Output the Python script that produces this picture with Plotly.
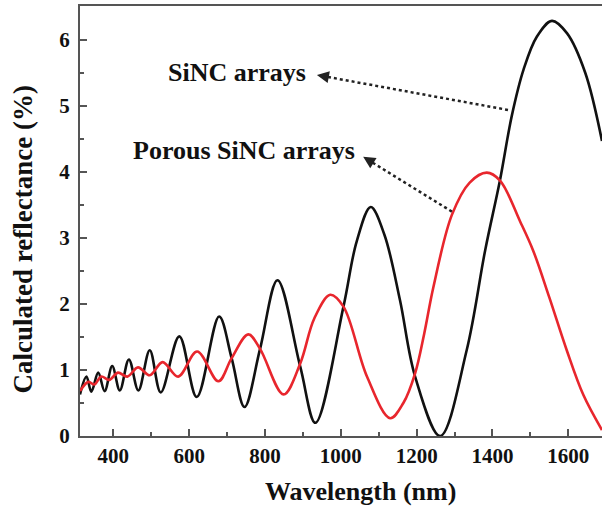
import plotly.graph_objects as go

# SiNC arrays (black) - wavelength (nm) and calculated reflectance (%)
sinc_wl = [312, 329, 342, 360, 377, 397, 417, 441, 466, 496, 525, 574, 620, 679,
           712, 746, 787, 833, 893, 933, 1007, 1042, 1079, 1115, 1156, 1196, 1262,
           1332, 1381, 1420, 1451, 1482, 1517, 1557, 1597, 1645, 1689]
sinc_r = [0.63, 0.90, 0.67, 0.96, 0.68, 1.06, 0.69, 1.16, 0.69, 1.30, 0.66, 1.51, 0.59, 1.81,
          1.18, 0.44, 1.32, 2.36, 1.05, 0.20, 1.96, 2.95, 3.47, 3.05, 2.06, 0.90, 0.00,
          1.30, 2.82, 3.88, 4.85, 5.55, 6.05, 6.29, 6.10, 5.50, 4.47]

# Porous SiNC arrays (red)
porous_wl = [312, 334, 350, 368, 389, 412, 437, 465, 496, 530, 571, 621, 677, 712,
             756, 787, 849, 893, 930, 972, 1007, 1069, 1130, 1165, 1196, 1220, 1244, 1293,
             1340, 1385, 1420, 1473, 1508, 1550, 1596, 1640, 1689]
porous_r = [0.68, 0.82, 0.78, 0.90, 0.85, 0.96, 0.90, 1.04, 0.92, 1.12, 0.90, 1.28, 0.83, 1.18,
            1.54, 1.32, 0.63, 1.10, 1.78, 2.14, 1.96, 0.90, 0.27, 0.50, 0.95, 1.55, 2.25, 3.35,
            3.84, 3.99, 3.87, 3.25, 2.80, 2.10, 1.30, 0.62, 0.09]

x_ticks = [400, 600, 800, 1000, 1200, 1400, 1600]
y_ticks = [0, 1, 2, 3, 4, 5, 6]

FONT = "Liberation Serif, Times New Roman, serif"

fig = go.Figure()
fig.add_trace(go.Scatter(x=sinc_wl, y=sinc_r, mode="lines", name="SiNC arrays",
                         line=dict(color="#111111", width=2.6, shape="spline", smoothing=1.0)))
fig.add_trace(go.Scatter(x=porous_wl, y=porous_r, mode="lines", name="Porous SiNC arrays",
                         line=dict(color="#e8262d", width=2.6, shape="spline", smoothing=1.0)))

# dotted arrows
arrows = [
    dict(text="SiNC arrays", tx=725, ty=5.515, hx=937, hy=5.47, sx=1441, sy=4.94),
    dict(text="Porous SiNC arrays", tx=745, ty=4.33, hx=1059, hy=4.23, sx=1293, sy=3.40),
]
for a in arrows:
    fig.add_shape(type="line", x0=a["sx"], y0=a["sy"], x1=a["hx"] + (a["sx"] - a["hx"]) * 0.03,
                  y1=a["hy"] + (a["sy"] - a["hy"]) * 0.03, xref="x", yref="y",
                  line=dict(color="#222222", width=2.5, dash="dot"))
    fig.add_annotation(x=a["hx"], y=a["hy"], ax=a["hx"] + (a["sx"] - a["hx"]) * 0.06,
                       ay=a["hy"] + (a["sy"] - a["hy"]) * 0.06, xref="x", yref="y",
                       axref="x", ayref="y", text="", showarrow=True, arrowhead=2,
                       arrowsize=1.2, arrowwidth=2, arrowcolor="#222222")
    fig.add_annotation(x=a["tx"], y=a["ty"], xref="x", yref="y", text=a["text"],
                       showarrow=False, xanchor="center", yanchor="middle",
                       font=dict(family=FONT, size=26, color="#111111", weight="bold"))

# axis titles
fig.add_annotation(x=0.538, y=-0.128, xref="paper", yref="paper", text="Wavelength (nm)",
                   showarrow=False, xanchor="center", yanchor="middle",
                   font=dict(family=FONT, size=26, color="#111111", weight="bold"))
fig.add_annotation(x=-0.11, y=0.456, xref="paper", yref="paper", text="Calculated reflectance (%)",
                   showarrow=False, xanchor="center", yanchor="middle", textangle=-90,
                   font=dict(family=FONT, size=27, color="#111111", weight="bold"))

fig.update_layout(
    width=602, height=510,
    margin=dict(l=80, r=0, t=6, b=74),
    paper_bgcolor="white", plot_bgcolor="white",
    showlegend=False,
    font=dict(family=FONT, color="#111111"),
)
fig.update_xaxes(range=[312, 1689], tickvals=x_ticks, ticktext=[str(v) for v in x_ticks],
                 ticks="inside", ticklen=7, tickwidth=1.5, tickcolor="#555555",
                 minor=dict(dtick=100, tick0=400, ticks="inside", ticklen=4, tickwidth=1.5, tickcolor="#555555"),
                 showline=True, linecolor="#555555", linewidth=2, mirror=True,
                 showgrid=False, zeroline=False,
                 tickfont=dict(family=FONT, size=21, color="#111111", weight="bold"))
fig.update_yaxes(range=[0, 6.515], tickvals=y_ticks, ticktext=[str(v) for v in y_ticks],
                 ticks="inside", ticklen=7, tickwidth=1.5, tickcolor="#555555",
                 minor=dict(dtick=0.5, tick0=0, ticks="inside", ticklen=4, tickwidth=1.5, tickcolor="#555555"),
                 showline=True, linecolor="#555555", linewidth=2, mirror=False,
                 showgrid=False, zeroline=False, ticklabelstandoff=4,
                 tickfont=dict(family=FONT, size=21, color="#111111", weight="bold"))

fig.write_html("out.html", config={"displayModeBar": False},
               post_script="document.body.style.margin='0';document.body.style.overflow='hidden';")
